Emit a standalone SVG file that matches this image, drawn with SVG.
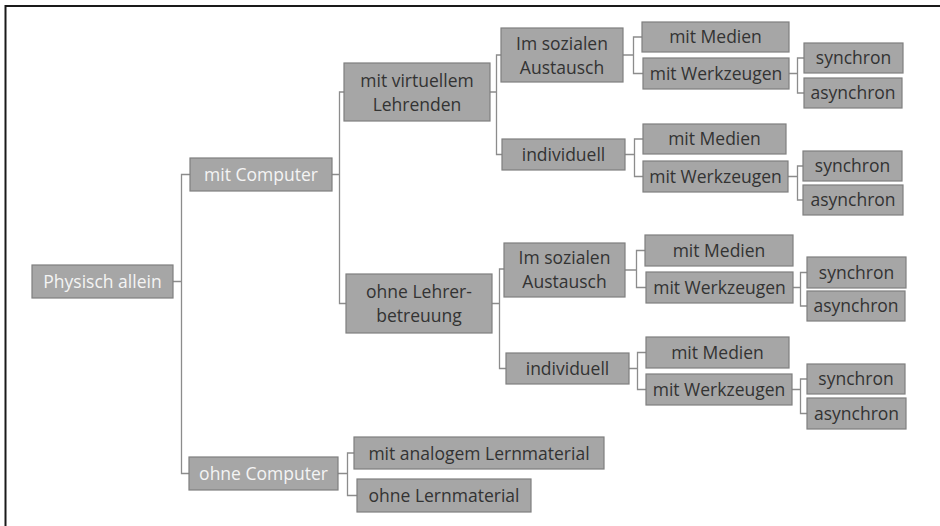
<svg xmlns="http://www.w3.org/2000/svg" width="940" height="526" viewBox="0 0 940 526">
  <style>
    .box { fill: #a6a6a6; stroke: #7f7f7f; stroke-width: 1.2; }
    .t { font-family: "Open Sans", "Noto Sans", sans-serif; font-size: 17.5px; text-anchor: middle; fill: #333333; }
    .w { fill: #f4f4f4; }
    .link { fill: none; stroke: #8c8c8c; stroke-width: 1.3; }
    .frame { fill: none; stroke: #1a1a1a; stroke-width: 2; }
  </style>
  <rect width="940" height="526" fill="#ffffff"/>
  <path class="frame" d="M5.5,526 V6 H940"/>

  <g id="connectors">
    <path class="link" d="M173,281.5 H181.5 M190,174.5 H181.5 V473.5 H189"/>
    <path class="link" d="M332,174.5 H339.5 M344,92 H339.5 V303.5 H346"/>
    <path class="link" d="M490,92 H496.5 M501,55 H496.5 V154.5 H502"/>
    <path class="link" d="M492,303.5 H499.5 M504,269 H499.5 V368.5 H506"/>
    <path class="link" d="M623,55 H633.5 M642,37 H633.5 V73.5 H643"/>
    <path class="link" d="M789,73.5 H797.5 M804,58 H797.5 V93 H804"/>
    <path class="link" d="M625,154.5 H634.5 M643,139 H634.5 V176.5 H643"/>
    <path class="link" d="M788,176.5 H797.5 M803,166 H797.5 V200 H803"/>
    <path class="link" d="M625,270 H636.5 M645,250.5 H636.5 V287.5 H646"/>
    <path class="link" d="M793,287.5 H800.5 M807,272.5 H800.5 V306 H807"/>
    <path class="link" d="M629,368.5 H637.5 M646,352.5 H637.5 V389.5 H646"/>
    <path class="link" d="M792,389.5 H800.5 M807,379 H800.5 V413.5 H807"/>
    <path class="link" d="M338,473.5 H347.5 M354,453 H347.5 V495.5 H357"/>
  </g>

  <g id="physisch-allein">
    <rect class="box" x="32" y="265" width="141" height="33"/>
    <text class="t w" x="102.5" y="288">Physisch allein</text>
  </g>
  <g id="mit-computer">
    <rect class="box" x="190" y="158" width="142" height="33"/>
    <text class="t w" x="261" y="181">mit Computer</text>
  </g>
  <g id="ohne-computer">
    <rect class="box" x="189" y="457" width="149" height="33"/>
    <text class="t w" x="263.5" y="480">ohne Computer</text>
  </g>
  <g id="mit-analogem-lernmaterial">
    <rect class="box" x="354" y="437" width="250" height="32"/>
    <text class="t" x="479" y="459.5">mit analogem Lernmaterial</text>
  </g>
  <g id="ohne-lernmaterial">
    <rect class="box" x="357" y="479" width="174" height="33"/>
    <text class="t" x="444" y="502">ohne Lernmaterial</text>
  </g>

  <g id="mit-virtuellem-lehrenden">
    <rect class="box" x="344" y="63" width="146" height="58"/>
    <text class="t" x="417" y="87">mit virtuellem</text>
    <text class="t" x="417" y="111">Lehrenden</text>
  </g>
  <g id="ohne-lehrerbetreuung">
    <rect class="box" x="346" y="274" width="146" height="59"/>
    <text class="t" x="419" y="298">ohne Lehrer-</text>
    <text class="t" x="419" y="322">betreuung</text>
  </g>

  <g id="austausch-1">
    <rect class="box" x="501" y="28" width="122" height="54"/>
    <text class="t" x="562" y="50">Im sozialen</text>
    <text class="t" x="562" y="74">Austausch</text>
  </g>
  <g id="individuell-1">
    <rect class="box" x="502" y="139" width="123" height="31"/>
    <text class="t" x="563.5" y="161">individuell</text>
  </g>
  <g id="austausch-2">
    <rect class="box" x="504" y="243" width="121" height="54"/>
    <text class="t" x="564.5" y="264">Im sozialen</text>
    <text class="t" x="564.5" y="288">Austausch</text>
  </g>
  <g id="individuell-2">
    <rect class="box" x="506" y="353" width="123" height="31"/>
    <text class="t" x="567.5" y="375">individuell</text>
  </g>

  <g id="medien-1">
    <rect class="box" x="642" y="22" width="147" height="30"/>
    <text class="t" x="715.5" y="43">mit Medien</text>
  </g>
  <g id="werkzeuge-1">
    <rect class="box" x="643" y="58" width="146" height="31"/>
    <text class="t" x="716" y="79.5">mit Werkzeugen</text>
  </g>
  <g id="synchron-1">
    <rect class="box" x="804" y="43" width="99" height="30"/>
    <text class="t" x="853.5" y="64">synchron</text>
  </g>
  <g id="asynchron-1">
    <rect class="box" x="804" y="78" width="98" height="30"/>
    <text class="t" x="853" y="99">asynchron</text>
  </g>

  <g id="medien-2">
    <rect class="box" x="643" y="124" width="143" height="30"/>
    <text class="t" x="714.5" y="145">mit Medien</text>
  </g>
  <g id="werkzeuge-2">
    <rect class="box" x="643" y="161" width="145" height="31"/>
    <text class="t" x="715.5" y="182.5">mit Werkzeugen</text>
  </g>
  <g id="synchron-2">
    <rect class="box" x="803" y="151" width="99" height="30"/>
    <text class="t" x="852.5" y="172">synchron</text>
  </g>
  <g id="asynchron-2">
    <rect class="box" x="803" y="185" width="100" height="30"/>
    <text class="t" x="853" y="206">asynchron</text>
  </g>

  <g id="medien-3">
    <rect class="box" x="645" y="235" width="148" height="31"/>
    <text class="t" x="719" y="256.5">mit Medien</text>
  </g>
  <g id="werkzeuge-3">
    <rect class="box" x="646" y="272" width="147" height="31"/>
    <text class="t" x="719.5" y="293.5">mit Werkzeugen</text>
  </g>
  <g id="synchron-3">
    <rect class="box" x="807" y="257" width="99" height="31"/>
    <text class="t" x="856.5" y="278.5">synchron</text>
  </g>
  <g id="asynchron-3">
    <rect class="box" x="807" y="291" width="98" height="30"/>
    <text class="t" x="856" y="312">asynchron</text>
  </g>

  <g id="medien-4">
    <rect class="box" x="646" y="337" width="143" height="31"/>
    <text class="t" x="717.5" y="358.5">mit Medien</text>
  </g>
  <g id="werkzeuge-4">
    <rect class="box" x="646" y="374" width="146" height="31"/>
    <text class="t" x="719" y="395.5">mit Werkzeugen</text>
  </g>
  <g id="synchron-4">
    <rect class="box" x="807" y="364" width="98" height="30"/>
    <text class="t" x="856" y="385">synchron</text>
  </g>
  <g id="asynchron-4">
    <rect class="box" x="807" y="398" width="99" height="31"/>
    <text class="t" x="856.5" y="419.5">asynchron</text>
  </g>
</svg>
